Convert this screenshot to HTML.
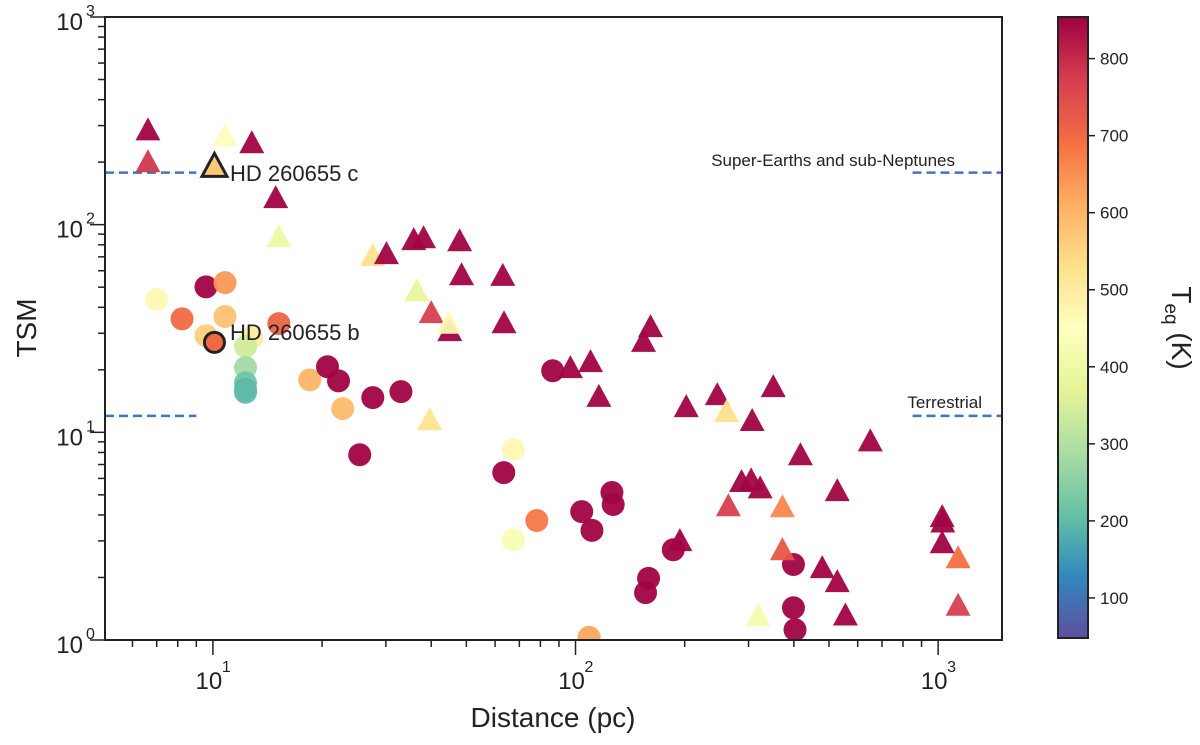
<!DOCTYPE html>
<html><head><meta charset="utf-8"><style>
body{margin:0;background:#fff;font-family:"Liberation Sans",sans-serif}
svg text{font-family:"Liberation Sans",sans-serif;fill:#222}
</style></head><body>
<svg id="chart" width="1200" height="740" xmlns="http://www.w3.org/2000/svg">
<defs>
<linearGradient id="cbg" x1="0" y1="1" x2="0" y2="0">
<stop offset="0" stop-color="#5e4fa2"/><stop offset="0.1" stop-color="#3288bd"/><stop offset="0.2" stop-color="#66c2a5"/><stop offset="0.3" stop-color="#abdda4"/><stop offset="0.4" stop-color="#e6f598"/><stop offset="0.5" stop-color="#ffffbf"/><stop offset="0.6" stop-color="#fee08b"/><stop offset="0.7" stop-color="#fdae61"/><stop offset="0.8" stop-color="#f46d43"/><stop offset="0.9" stop-color="#d53e4f"/><stop offset="1" stop-color="#9e0142"/>
</linearGradient>
<clipPath id="clip"><rect x="105" y="17" width="897" height="623"/></clipPath>
</defs>
<g id="lines"></g>
<g id="marks" clip-path="url(#clip)"></g>
<g id="axes"></g>
<text x="230" y="181" font-size="22">HD 260655 c</text>
<text x="230" y="340" font-size="22">HD 260655 b</text>
<text x="955" y="166" font-size="17" text-anchor="end">Super-Earths and sub-Neptunes</text>
<text x="982" y="408" font-size="17" text-anchor="end">Terrestrial</text>
<text x="553" y="727" font-size="28" text-anchor="middle">Distance (pc)</text>
<text transform="translate(36,328) rotate(-90)" font-size="28" text-anchor="middle">TSM</text>
<rect x="1058" y="17" width="30" height="621" fill="url(#cbg)" stroke="#222" stroke-width="2"/>
<g id="cbticks"></g>
<text transform="translate(1172,328) rotate(90)" font-size="28" text-anchor="middle">T<tspan font-size="19" dy="7">eq</tspan><tspan dy="-7"> (K)</tspan></text>
</svg>
<script>
// triangles: [distance, tsm, teq]
const triD=[6.62,6.62,10.8,12.8,14.9,15.2,27.6,30.1,35.8,38.1,47.9,48.5,63,63.5,36.5,40,45,44.7,39.6,96.8,110,116,161,154,202,246,261,307,351,417,194,287,305,323,264,372,372,479,527,319,650,527,555,1026,1030,1026,1135,1135];
const triT=[286,201,268,248,135,87.5,71,72.5,84.7,86.5,83.7,57.4,57,33.7,48,37.7,30.9,33.5,11.5,20.5,21.9,14.9,32.3,27.4,13.3,15.2,12.6,11.4,16.6,7.8,3.01,5.8,5.9,5.4,4.43,4.38,2.72,2.23,1.91,1.31,9.1,5.24,1.32,3.93,3.7,2.94,2.49,1.47];
const triK=[850,780,440,850,850,400,530,850,850,850,850,850,850,850,380,770,850,470,520,850,850,850,850,850,850,850,530,850,850,850,850,850,850,850,770,660,730,850,850,420,850,850,850,850,850,850,690,770];
// circles
const cirD=[7.0,9.57,10.8,8.22,10.8,9.57,12.8,15.2,12.3,12.3,12.3,12.3,12.3,18.5,20.7,22.2,22.8,27.6,33,25.4,86.5,67.4,63.4,78.2,67.4,104,111,126,127,186,159,156,109,399,399,403];
const cirT=[43.6,50.2,52.6,35.2,36.1,29.2,28.6,33.4,25.9,20.5,17.3,16.1,15.6,17.9,20.7,17.7,13.0,14.7,15.7,7.8,19.8,8.27,6.4,3.76,3.04,4.15,3.37,5.13,4.49,2.72,1.98,1.69,1.03,2.31,1.43,1.12];
const cirK=[470,850,640,700,580,560,500,710,340,280,220,190,200,600,850,850,590,850,850,850,850,470,850,680,430,850,850,850,850,850,850,850,620,850,850,850];
// highlighted planets
const hlD=[10.1,10.1]; const hlT=[192,27.1]; const hlK=[570,700]; const hlShape=['tri','cir'];
const threshTSM=[178,12];
const xTicks=[10,100,1000]; const xTickLab=['1','2','3'];
const yTicks=[1,10,100,1000]; const yTickLab=['0','1','2','3'];
const cbTicks=[100,200,300,400,500,600,700,800];

const NS='http://www.w3.org/2000/svg';
const X0=105,X1=1002,Y0=640,Y1=17,DMIN=5.04,DMAX=1500,TMIN=1,TMAX=1000,KMIN=48,KMAX=854;
const lx=d=>X0+(Math.log10(d)-Math.log10(DMIN))/(Math.log10(DMAX)-Math.log10(DMIN))*(X1-X0);
const ly=t=>Y0-(Math.log10(t)-Math.log10(TMIN))/(Math.log10(TMAX)-Math.log10(TMIN))*(Y0-Y1);
const ky=k=>638-(k-KMIN)/(KMAX-KMIN)*621;
const stops=['#5e4fa2','#3288bd','#66c2a5','#abdda4','#e6f598','#ffffbf','#fee08b','#fdae61','#f46d43','#d53e4f','#9e0142'].map(h=>[1,3,5].map(i=>parseInt(h.substr(i,2),16)));
function cmap(k){let f=Math.max(0,Math.min(1,(k-KMIN)/(KMAX-KMIN)))*10;let i=Math.min(9,Math.floor(f)),r=f-i;const c=stops[i].map((v,j)=>Math.round(v+(stops[i+1][j]-v)*r));return `rgb(${c})`;}
function mk(tag,attrs,parent){const e=document.createElementNS(NS,tag);for(const a in attrs)e.setAttribute(a,attrs[a]);parent.appendChild(e);return e;}
const marks=document.getElementById('marks'),axes=document.getElementById('axes'),lines=document.getElementById('lines');
function tri(x,y){return `${x},${y-12.5} ${x-12.5},${y+10.5} ${x+12.5},${y+10.5}`;}
threshTSM.forEach(t=>{[[DMIN,9],[850,DMAX]].forEach(r=>{const l=mk('line',{x1:lx(r[0]),x2:lx(r[1]),y1:ly(t),y2:ly(t),stroke:'#4472c4','stroke-width':2.5,'stroke-dasharray':'9,5'},lines);

});});
cirD.forEach((d,i)=>{const c=mk('circle',{cx:lx(d),cy:ly(cirT[i]),r:11.5,fill:cmap(cirK[i]),'fill-opacity':0.95},marks);

});
triD.forEach((d,i)=>{const p=mk('polygon',{points:tri(lx(d),ly(triT[i])),fill:cmap(triK[i]),'fill-opacity':0.95},marks);

});
hlD.forEach((d,i)=>{let e;if(hlShape[i]==='tri')e=mk('polygon',{points:tri(lx(d),ly(hlT[i])),fill:cmap(hlK[i]),stroke:'#222','stroke-width':3},marks);
else e=mk('circle',{cx:lx(d),cy:ly(hlT[i]),r:10,fill:cmap(hlK[i]),stroke:'#222','stroke-width':3},marks);

});
const fr=mk('rect',{x:X0,y:Y1,width:X1-X0,height:Y0-Y1,fill:'none',stroke:'#222','stroke-width':2},axes);


for(let e=0;e<=3;e++)for(let m=1;m<10;m++){const v=m*Math.pow(10,e);const L=m===1?15:7;
 if(v>=DMIN&&v<=DMAX){const t=mk('line',{x1:lx(v),x2:lx(v),y1:Y0,y2:Y0+L,stroke:'#222','stroke-width':1.5},axes);
 
 }
 if(v>=TMIN&&v<=TMAX&&(e<3||m===1)){const t=mk('line',{x1:X0-L,x2:X0,y1:ly(v),y2:ly(v),stroke:'#222','stroke-width':1.5},axes);
 
 }}
xTicks.forEach((v,i)=>{const t=mk('text',{x:lx(v)-4,y:Y0+49,'font-size':24,'text-anchor':'middle'},axes);t.textContent='10';
const s=mk('text',{x:lx(v)+9,y:Y0+32,'font-size':16},axes);s.textContent=xTickLab[i];



});
yTicks.forEach((v,i)=>{const t=mk('text',{x:83,y:ly(v)+13,'font-size':24,'text-anchor':'end'},axes);t.textContent='10';
const s=mk('text',{x:86,y:ly(v)-1,'font-size':16},axes);s.textContent=yTickLab[i];



});
const cbt=document.getElementById('cbticks');
cbTicks.forEach(k=>{const l=mk('line',{x1:1088,x2:1095,y1:ky(k),y2:ky(k),stroke:'#222','stroke-width':1.5},cbt);


const t=mk('text',{x:1100,y:ky(k)+6,'font-size':17},cbt);t.textContent=k;

});
</script>
</body></html>
